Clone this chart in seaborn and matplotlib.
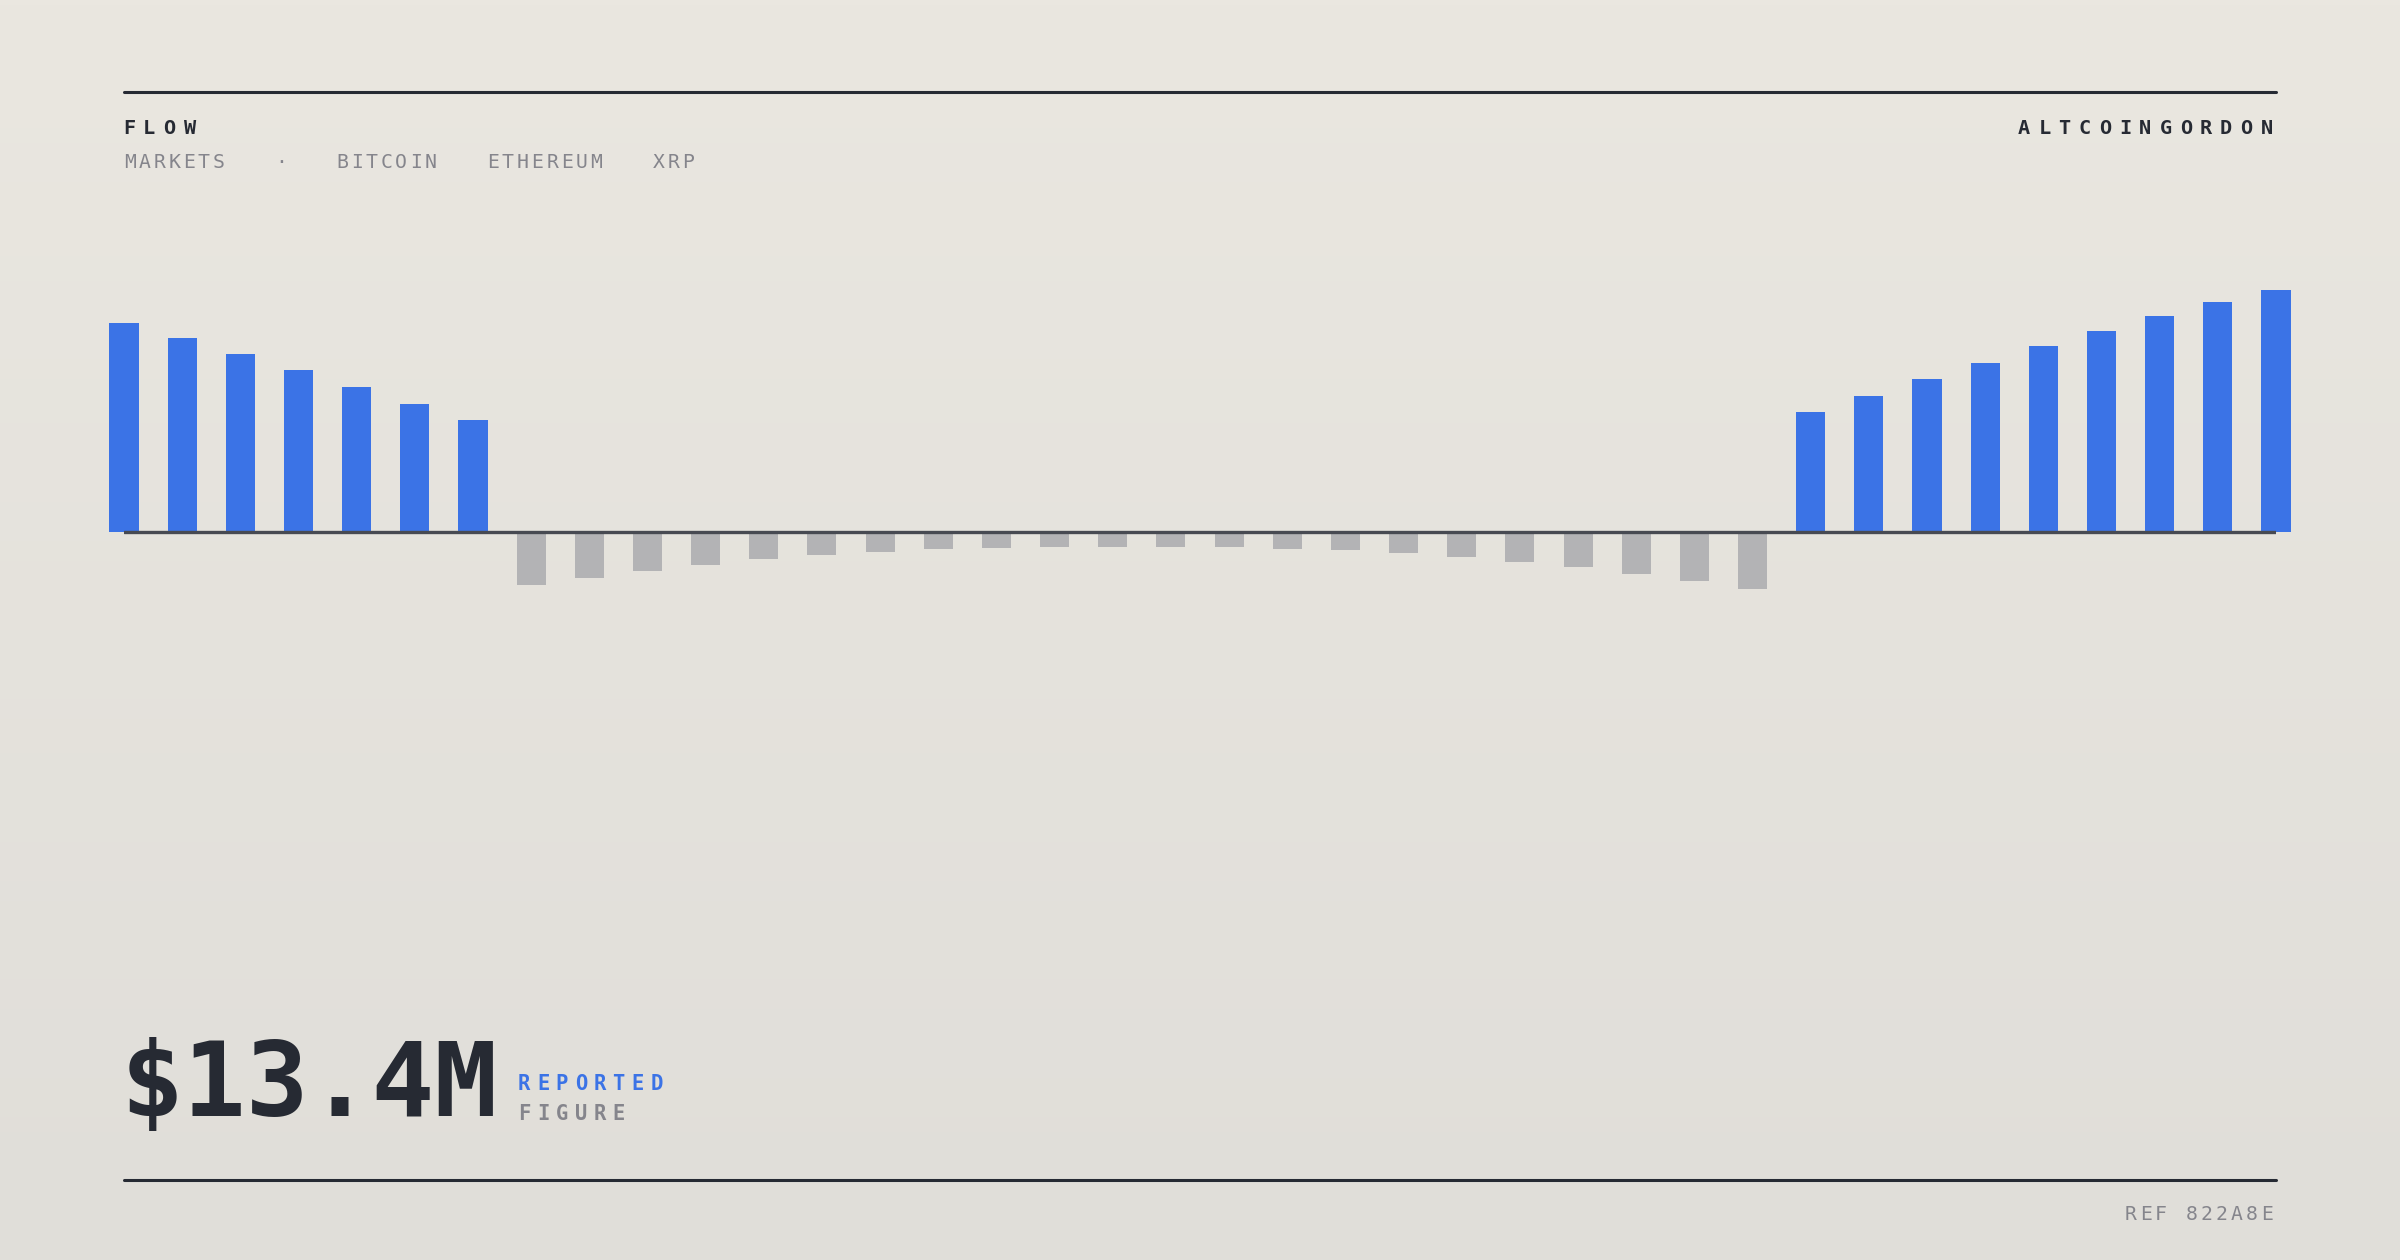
import numpy as np
import pandas as pd
import seaborn as sns
import matplotlib.pyplot as plt
from matplotlib.lines import Line2D

W, H, DPI = 2400, 1260, 200

# flow values (left inflows, outflows, right inflows)
left_in = [20.9, 19.4, 17.8, 16.2, 14.5, 12.8, 11.2]
outflow = [-5.3, -4.6, -3.9, -3.3, -2.7, -2.3, -2.0, -1.7, -1.6, -1.5, -1.5,
           -1.5, -1.5, -1.7, -1.8, -2.1, -2.5, -3.0, -3.5, -4.2, -4.9, -5.7]
right_in = [12.0, 13.6, 15.3, 16.9, 18.6, 20.1, 21.6, 23.0, 24.2]

values = left_in + outflow + right_in
df = pd.DataFrame({'idx': range(len(values)), 'value': values})
df['kind'] = np.where(df['value'] >= 0, 'in', 'out')

BLUE = '#3b73e6'
GREY = '#b3b3b5'
DARK = '#262a33'
MUTED = '#85858c'
MONO = 'DejaVu Sans Mono'

sns.set_theme(style='white')
plt.rcParams['font.family'] = [MONO, 'DejaVu Sans']

fig = plt.figure(figsize=(W / DPI, H / DPI), dpi=DPI)

# background gradient
bg = fig.add_axes([0, 0, 1, 1], zorder=-10)
top = np.array([234, 231, 224]) / 255
bot = np.array([224, 222, 217]) / 255
t = np.linspace(0, 1, 256)[:, None, None]
grad = top * (1 - t) + bot * t
bg.imshow(np.repeat(grad, 2, axis=1), aspect='auto', extent=[0, 1, 0, 1])
bg.axis('off')

# bar axes: x from 124 to 2276 px, baseline at 532 px
ax_top, ax_bot = 200, 900
ax = fig.add_axes([124 / W, 1 - ax_bot / H, 2152 / W, (ax_bot - ax_top) / H])
ax.set_facecolor('none')
sns.barplot(data=df, x='idx', y='value', hue='kind', palette={'in': BLUE, 'out': GREY},
            dodge=False, width=0.5, saturation=1, legend=False, linewidth=0, ax=ax)
for p in ax.patches:
    p.set_clip_on(False)
ax.set_xlim(0, len(values) - 1)
ax.set_ylim(-(ax_bot - 532) / 10, (532 - ax_top) / 10)
ax.axhline(0, color='#474a52', lw=1.2, zorder=5)
ax.axis('off')

# rules
for y in (92, 1180):
    fig.add_artist(Line2D([124 / W, 2276 / W], [1 - y / H] * 2, color=DARK, lw=1.1))


def spaced(text, x, y, size, adv, color, weight='normal', align='left'):
    em = size / 72 * DPI
    cell = 0.602 * em
    if align == 'right':
        x = x - (len(text) - 1) * adv - cell * 1.27
    for i, ch in enumerate(text):
        fig.text((x + cell / 2 + i * adv) / W, 1 - y / H, ch, ha='center', va='baseline',
                 fontsize=size, color=color, fontweight=weight, family=MONO)


spaced('FLOW', 123, 134, 7.3, 20.2, DARK, 'bold')
spaced('ALTCOINGORDON', 2276, 134, 7.3, 20.2, DARK, 'bold', align='right')

subs = [('MARKETS', 124), ('·', 275), ('BITCOIN', 336), ('ETHEREUM', 487), ('XRP', 653)]
for word, x in subs:
    spaced(word, x, 168, 7.1, 14.8, MUTED)

fig.text(121 / W, 1 - 1116 / H, '$13.4M', ha='left', va='baseline', fontsize=37.6,
         fontweight='bold', color=DARK, family=MONO)
spaced('REPORTED', 518, 1090, 7.4, 18.9, BLUE, 'bold')
spaced('FIGURE', 518, 1120, 7.4, 18.9, MUTED, 'bold')
spaced('REF 822A8E', 2276, 1220, 7.1, 15.1, MUTED, align='right')

fig.savefig('out.png', dpi=DPI)
